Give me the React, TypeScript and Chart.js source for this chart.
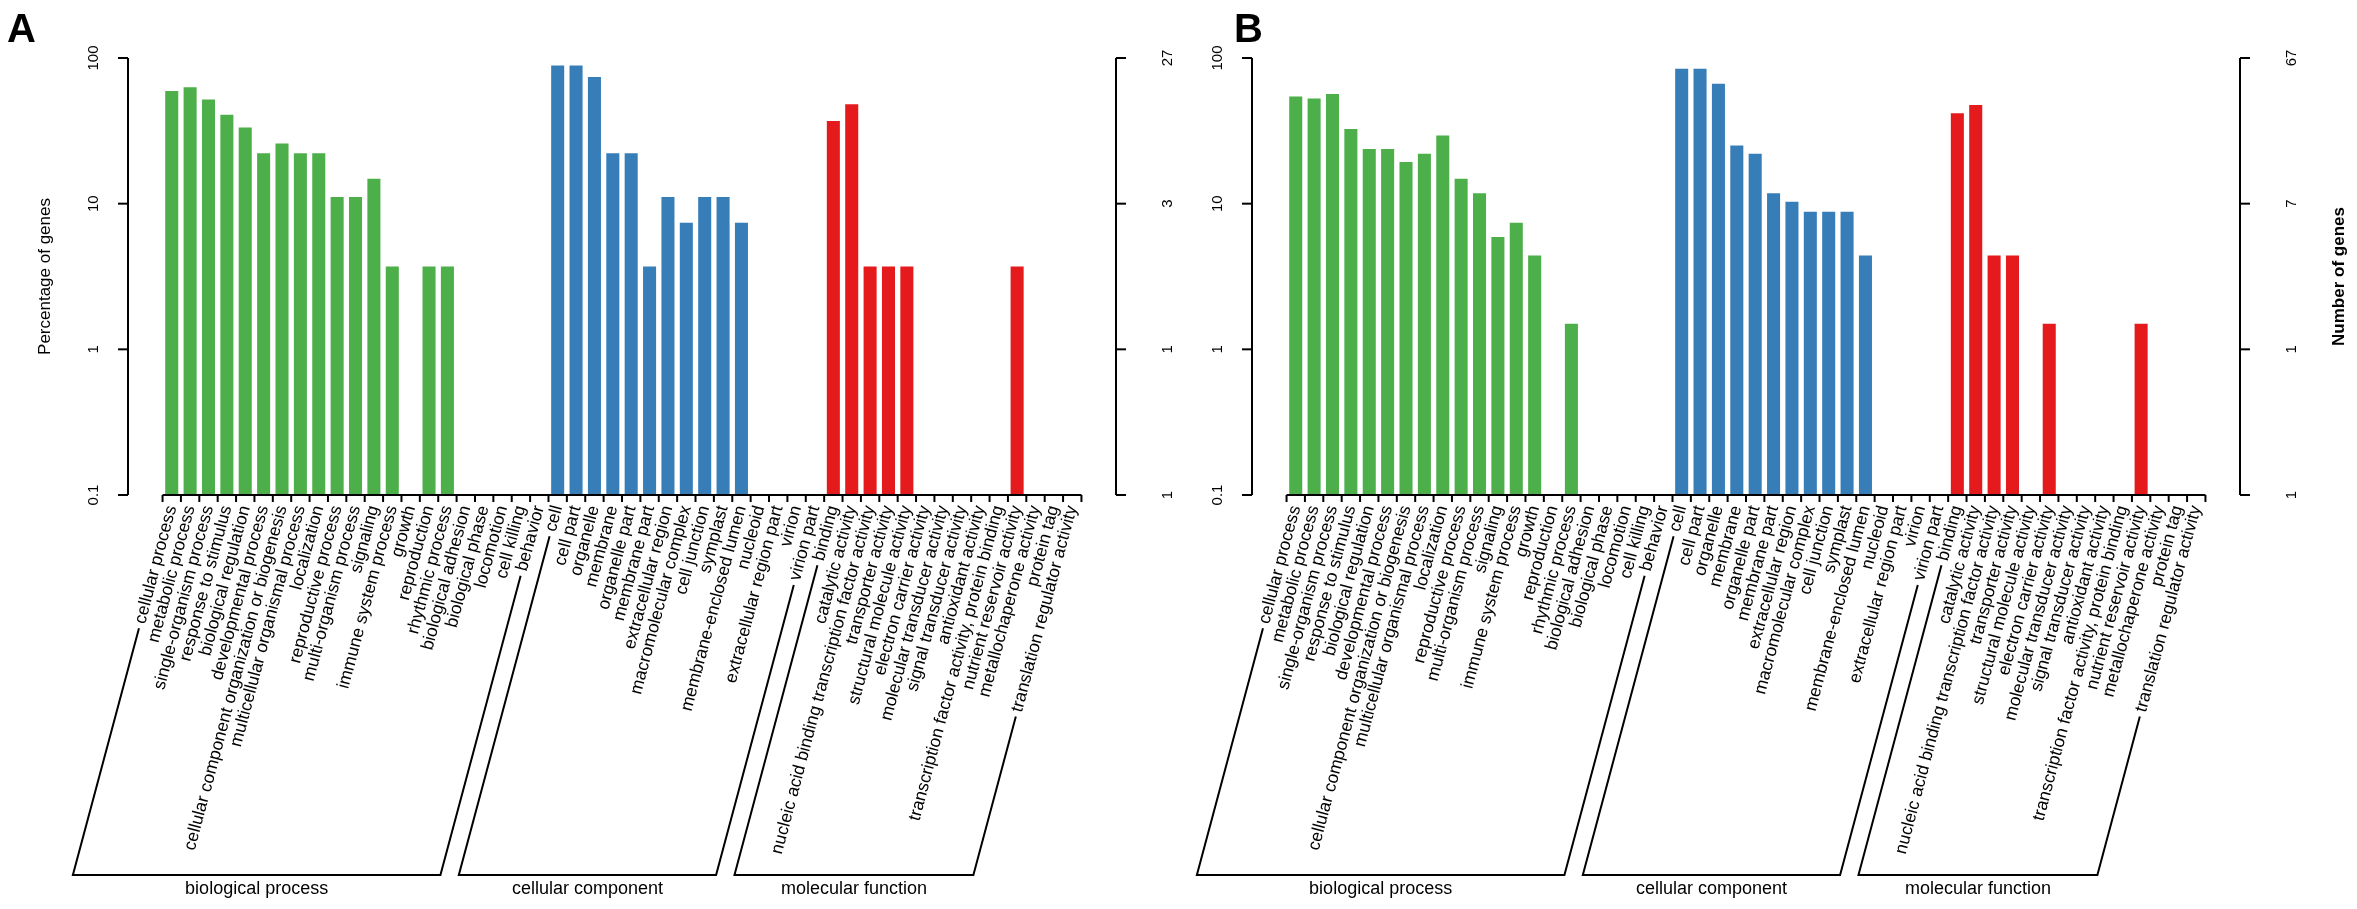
import { useEffect, useRef } from "react";
import { Chart, registerables } from "chart.js";

Chart.register(...registerables);

// GO terms, in plotting order
const bpTerms = [
  "cellular process",
  "metabolic process",
  "single-organism process",
  "response to stimulus",
  "biological regulation",
  "developmental process",
  "cellular component organization or biogenesis",
  "multicellular organismal process",
  "localization",
  "reproductive process",
  "multi-organism process",
  "signaling",
  "immune system process",
  "growth",
  "reproduction",
  "rhythmic process",
  "biological adhesion",
  "biological phase",
  "locomotion",
  "cell killing",
  "behavior",
];
const ccTerms = [
  "cell",
  "cell part",
  "organelle",
  "membrane",
  "organelle part",
  "membrane part",
  "extracellular region",
  "macromolecular complex",
  "cell junction",
  "symplast",
  "membrane-enclosed lumen",
  "nucleoid",
  "extracellular region part",
  "virion",
  "virion part",
];
const mfTerms = [
  "binding",
  "catalytic activity",
  "nucleic acid binding transcription factor activity",
  "transporter activity",
  "structural molecule activity",
  "electron carrier activity",
  "molecular transducer activity",
  "signal transducer activity",
  "antioxidant activity",
  "transcription factor activity, protein binding",
  "nutrient reservoir activity",
  "metallochaperone activity",
  "protein tag",
  "translation regulator activity",
];
const groupNames = ["biological process", "cellular component", "molecular function"];

// percentage of genes, panel A
const bpA = [59.3, 63.0, 51.9, 40.7, 33.3, 22.2, 25.9, 22.2, 22.2, 11.1, 11.1, 14.8, 3.7, 0, 3.7, 3.7, 0, 0, 0, 0, 0];
const ccA = [88.9, 88.9, 74.1, 22.2, 22.2, 3.7, 11.1, 7.4, 11.1, 11.1, 7.4, 0, 0, 0, 0];
const mfA = [37.0, 48.1, 3.7, 3.7, 3.7, 0, 0, 0, 0, 0, 3.7, 0, 0, 0];

// percentage of genes, panel B
const bpB = [54.5, 52.8, 56.5, 32.5, 23.7, 23.7, 19.3, 22.0, 29.4, 14.8, 11.8, 5.9, 7.4, 4.4, 0, 1.5, 0, 0, 0, 0, 0];
const ccB = [84.5, 84.5, 66.6, 25.1, 22.0, 11.8, 10.3, 8.8, 8.8, 8.8, 4.4, 0, 0, 0, 0];
const mfB = [41.7, 47.5, 4.4, 4.4, 0, 1.5, 0, 0, 0, 0, 1.5, 0, 0, 0];

// axis ticks
const pctTicks = [100, 10, 1, 0.1];
const pctTickLabels = ["100", "10", "1", "0.1"];
const geneTicksA = ["27", "3", "1", "1"];
const geneTicksB = ["67", "7", "1", "1"];

const groupColors = ["#4DAF4A", "#377EB8", "#E41A1C"];
const FONT = '"Liberation Sans", Arial, Helvetica, sans-serif';
const ANGLE = (75 * Math.PI) / 180;
const LABEL_SIZE = 17.5;
const BRACKET_Y = 875;
const H = 909;

type PanelProps = {
  letter: string;
  letterX: number;
  left: number;
  width: number;
  bp: number[];
  cc: number[];
  mf: number[];
  geneTicks: string[];
  leftTitle?: string;
  rightTitle?: string;
};

const GoPanel = (p: PanelProps) => {
  const canvasRef = useRef<HTMLCanvasElement>(null);

  useEffect(() => {
    if (!canvasRef.current) return;
    const terms = [...bpTerms, ...ccTerms, ...mfTerms];
    const counts = [bpTerms.length, ccTerms.length, mfTerms.length];
    const values = [...p.bp, ...p.cc, ...p.mf];
    const colors = values.map((_, i) =>
      groupColors[i < counts[0] ? 0 : i < counts[0] + counts[1] ? 1 : 2]
    );

    const axesPlugin = {
      id: "goAxes",
      afterDraw(chart: any) {
        const { ctx, chartArea } = chart;
        const xs = chart.scales.x;
        const ys = chart.scales.y;
        const n = terms.length;
        const yTop = ys.getPixelForValue(100);
        const yBase = ys.getPixelForValue(0.1);
        const yMid = (yTop + yBase) / 2;
        const seg = (x1: number, y1: number, x2: number, y2: number) => {
          ctx.beginPath();
          ctx.moveTo(x1, y1);
          ctx.lineTo(x2, y2);
          ctx.stroke();
        };
        const vtext = (t: string, x: number, y: number) => {
          ctx.save();
          ctx.translate(x, y);
          ctx.rotate(-Math.PI / 2);
          ctx.fillText(t, 0, 0);
          ctx.restore();
        };

        ctx.save();
        ctx.strokeStyle = "#000";
        ctx.fillStyle = "#000";
        ctx.lineWidth = 2;

        // y axes
        seg(chartArea.left, yTop, chartArea.left, yBase);
        seg(chartArea.right, yTop, chartArea.right, yBase);
        ctx.font = `15px ${FONT}`;
        ctx.textAlign = "center";
        ctx.textBaseline = "middle";
        pctTicks.forEach((v, k) => {
          const y = ys.getPixelForValue(v);
          seg(chartArea.left - 10, y, chartArea.left, y);
          seg(chartArea.right, y, chartArea.right + 10, y);
          vtext(pctTickLabels[k], chartArea.left - 34, y);
          vtext(p.geneTicks[k], chartArea.right + 52, y);
        });
        if (p.leftTitle) {
          ctx.font = `17px ${FONT}`;
          vtext(p.leftTitle, chartArea.left - 83, yMid);
        }
        if (p.rightTitle) {
          ctx.font = `bold 17px ${FONT}`;
          vtext(p.rightTitle, chartArea.right + 99, yMid);
        }

        // x axis with ticks between slots
        seg(xs.getPixelForValue(-0.5), yBase, xs.getPixelForValue(n - 0.5), yBase);
        for (let i = 0; i <= n; i++) {
          const x = xs.getPixelForValue(i - 0.5);
          seg(x, yBase, x, yBase + 7);
        }

        // rotated term labels
        ctx.font = `${LABEL_SIZE}px ${FONT}`;
        ctx.textAlign = "right";
        ctx.textBaseline = "middle";
        const cx = Math.cos(ANGLE);
        const cy = Math.sin(ANGLE);
        const starts: number[][] = [];
        terms.forEach((t, i) => {
          const x = xs.getPixelForValue(i);
          const y = yBase + 11;
          ctx.save();
          ctx.translate(x, y);
          ctx.rotate(-ANGLE);
          ctx.fillText(t, 0, 0);
          ctx.restore();
          const w = ctx.measureText(t).width + 5;
          starts.push([x - w * cx, y + w * cy]);
        });

        // group brackets
        ctx.font = `18px ${FONT}`;
        ctx.textAlign = "center";
        ctx.textBaseline = "alphabetic";
        let i0 = 0;
        counts.forEach((c, k) => {
          const a = starts[i0];
          const b = starts[i0 + c - 1];
          const ax = a[0] - (BRACKET_Y - a[1]) / Math.tan(ANGLE);
          const bx = b[0] - (BRACKET_Y - b[1]) / Math.tan(ANGLE);
          ctx.beginPath();
          ctx.moveTo(a[0], a[1]);
          ctx.lineTo(ax, BRACKET_Y);
          ctx.lineTo(bx, BRACKET_Y);
          ctx.lineTo(b[0], b[1]);
          ctx.stroke();
          ctx.fillText(groupNames[k], (ax + bx) / 2, BRACKET_Y + 19);
          i0 += c;
        });

        // panel letter
        ctx.font = `bold 40px ${FONT}`;
        ctx.textAlign = "left";
        ctx.fillText(p.letter, p.letterX, 42);
        ctx.restore();
      },
    };

    const chart = new Chart(canvasRef.current, {
      type: "bar",
      data: {
        datasets: [
          {
            data: values.map((v, i) => ({ x: i, y: v > 0 ? v : null })),
            backgroundColor: colors,
            borderWidth: 0,
            barPercentage: 0.71,
            categoryPercentage: 1,
          },
        ],
      },
      options: {
        responsive: false,
        animation: false,
        events: [],
        layout: { padding: { left: 128, right: p.width - 128 - 988, top: 58, bottom: H - 495 } },
        plugins: { legend: { display: false }, tooltip: { enabled: false }, title: { display: false } },
        scales: {
          x: { type: "linear", min: -2.38, max: 51.38, offset: false, display: false },
          y: { type: "logarithmic", min: 0.1, max: 100, display: false },
        },
      },
      plugins: [axesPlugin],
    } as any);

    return () => chart.destroy();
  }, [p]);

  return (
    <canvas
      ref={canvasRef}
      width={p.width}
      height={H}
      style={{ position: "absolute", left: p.left, top: 0, width: p.width, height: H }}
    />
  );
};

export default function App() {
  return (
    <div style={{ position: "absolute", left: 0, top: 0, width: 2357, height: H, background: "#fff" }}>
      <GoPanel
        letter="A"
        letterX={7}
        left={0}
        width={1200}
        bp={bpA}
        cc={ccA}
        mf={mfA}
        geneTicks={geneTicksA}
        leftTitle="Percentage of genes"
      />
      <GoPanel
        letter="B"
        letterX={110}
        left={1124}
        width={1233}
        bp={bpB}
        cc={ccB}
        mf={mfB}
        geneTicks={geneTicksB}
        rightTitle="Number of genes"
      />
    </div>
  );
}
